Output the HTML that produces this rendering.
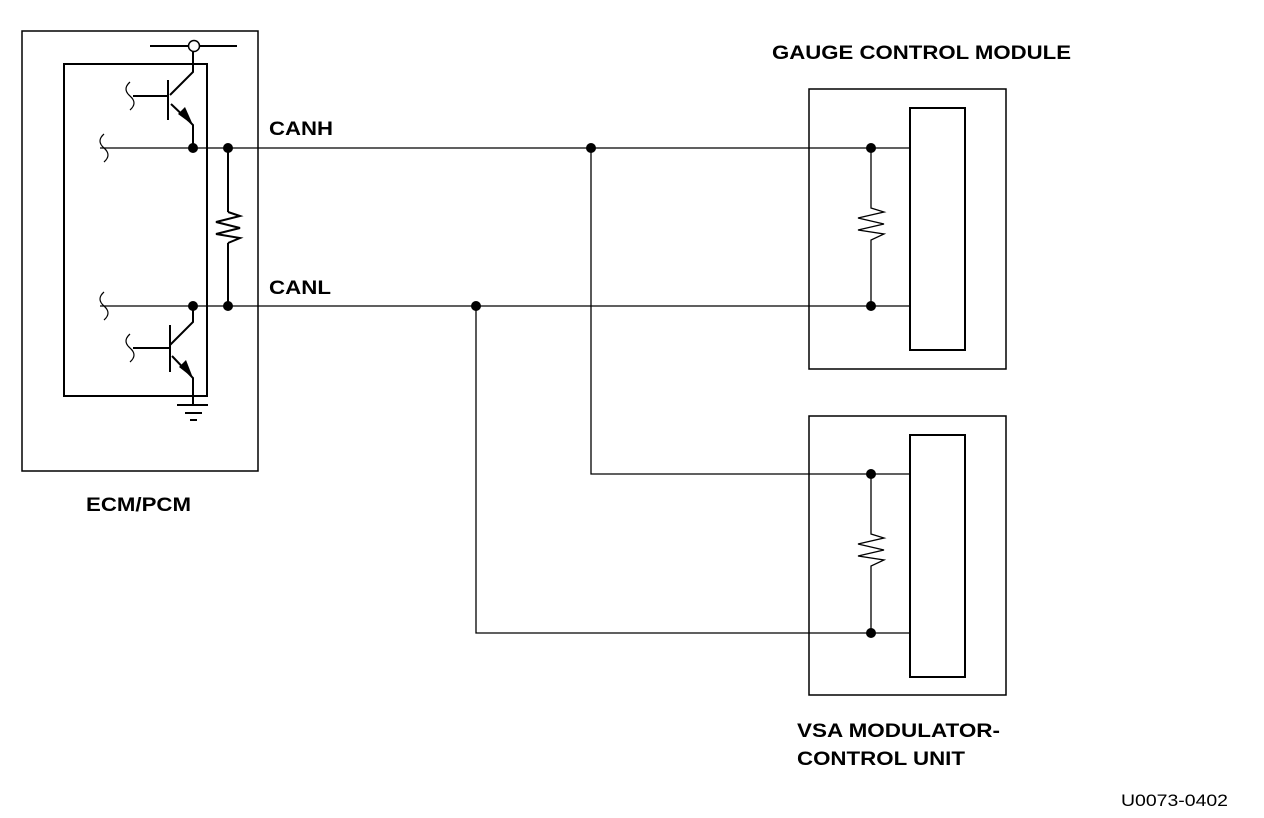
<!DOCTYPE html>
<html><head><style>body{margin:0;background:#fff}svg{display:block}</style></head><body>
<svg width="1264" height="818" viewBox="0 0 1264 818" xmlns="http://www.w3.org/2000/svg" font-family="Liberation Sans, sans-serif" font-weight="bold">
<g fill="none" stroke="#000">
<rect x="22" y="31" width="236" height="440" stroke-width="1.5"/>
<rect x="64" y="64" width="143" height="332" stroke-width="2"/>
<line x1="150" y1="46" x2="237" y2="46" stroke-width="2"/>
<g stroke-width="2">
<polyline points="193,50 193,72 170,95"/>
<line x1="168" y1="80" x2="168" y2="120"/>
<line x1="133" y1="96" x2="168" y2="96"/>
<polyline points="171,104 190,122 193,125 193,148"/>
<polyline points="193,306 193,322 170,345"/>
<line x1="170" y1="325" x2="170" y2="372"/>
<line x1="133" y1="348" x2="170" y2="348"/>
<polyline points="172,356 193,378 193,405"/>
<line x1="177" y1="405" x2="208" y2="405"/>
<line x1="185" y1="413" x2="202" y2="413"/>
<line x1="190" y1="420" x2="197" y2="420"/>
<line x1="228" y1="148" x2="228" y2="212"/>
<polyline points="228,212 240,216 216,222 240,228 216,234 240,238 228,243"/>
<line x1="228" y1="243" x2="228" y2="306"/>
</g>
<g stroke-width="1.2">
<path d="M130,82 q-8,7 0,14 q8,7 0,14"/>
<path d="M104,134 q-8,7 0,14 q8,7 0,14"/>
<path d="M104,292 q-8,7 0,14 q8,7 0,14"/>
<path d="M130,334 q-8,7 0,14 q8,7 0,14"/>
</g>
<line x1="100" y1="148" x2="910" y2="148" stroke-width="1.3"/>
<line x1="100" y1="306" x2="910" y2="306" stroke-width="1.3"/>
<polyline points="591,148 591,474 910,474" stroke-width="1.3"/>
<polyline points="476,306 476,633 910,633" stroke-width="1.3"/>
<rect x="809" y="89" width="197" height="280" stroke-width="1.5"/>
<rect x="910" y="108" width="55" height="242" stroke-width="2"/>
<rect x="809" y="416" width="197" height="279" stroke-width="1.5"/>
<rect x="910" y="435" width="55" height="242" stroke-width="2"/>
<g stroke-width="1.3">
<polyline points="871,148 871,208 884,212 858,218 884,224 858,230 884,234 871,240 871,306"/>
<polyline points="871,474 871,534 884,538 858,544 884,550 858,556 884,560 871,566 871,633"/>
</g>
<circle cx="194" cy="46" r="5.5" fill="#fff" stroke-width="1.5"/>
</g>
<g fill="#000">
<polygon points="193,125 178,114 185,107"/>
<polygon points="193,378 179,367 186,360"/>
<circle cx="193" cy="148" r="5"/><circle cx="228" cy="148" r="5"/>
<circle cx="193" cy="306" r="5"/><circle cx="228" cy="306" r="5"/>
<circle cx="591" cy="148" r="5"/><circle cx="476" cy="306" r="5"/>
<circle cx="871" cy="148" r="5"/><circle cx="871" cy="306" r="5"/>
<circle cx="871" cy="474" r="5"/><circle cx="871" cy="633" r="5"/>
<text x="772" y="59" font-size="19" textLength="299" lengthAdjust="spacingAndGlyphs">GAUGE CONTROL MODULE</text>
<text x="269" y="135" font-size="19" textLength="64" lengthAdjust="spacingAndGlyphs">CANH</text>
<text x="269" y="294" font-size="19" textLength="62" lengthAdjust="spacingAndGlyphs">CANL</text>
<text x="86" y="511" font-size="19" textLength="105" lengthAdjust="spacingAndGlyphs">ECM/PCM</text>
<text x="797" y="737" font-size="19" textLength="203" lengthAdjust="spacingAndGlyphs">VSA MODULATOR-</text>
<text x="797" y="765" font-size="19" textLength="168" lengthAdjust="spacingAndGlyphs">CONTROL UNIT</text>
<text x="1121" y="806" font-size="17" font-weight="normal" textLength="107" lengthAdjust="spacingAndGlyphs">U0073-0402</text>
</g>
</svg>
</body></html>
